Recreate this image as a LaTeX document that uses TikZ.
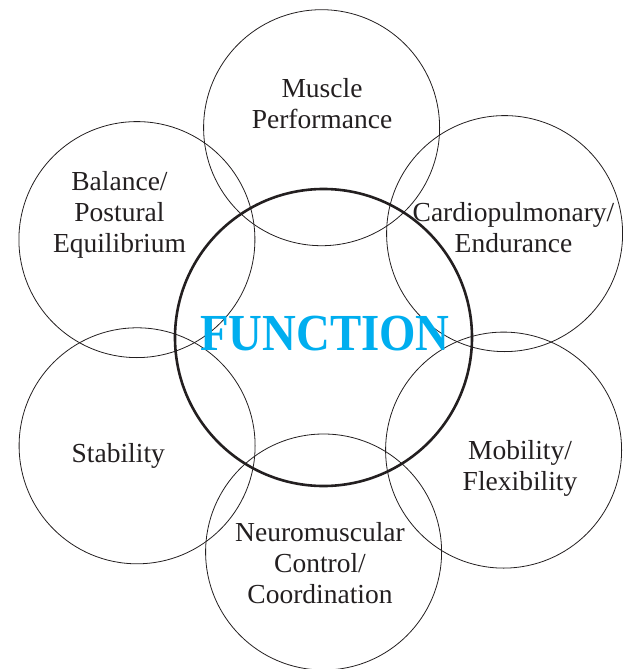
\documentclass[tikz,border=0pt]{standalone}
\usepackage{fontspec}
\setmainfont{Liberation Serif}
\usepackage{tikz}
\usetikzlibrary{positioning}
\usepackage{xcolor}
\definecolor{fninkgray}{RGB}{35,31,32}
\definecolor{fncyan}{RGB}{0,174,239}
\tikzstyle{areacircle} = [circle, draw=fninkgray, line width=0.8pt, minimum size=236pt, inner sep=0pt]
\tikzstyle{corecircle} = [circle, draw=fninkgray, line width=2.6pt, minimum size=297pt, inner sep=0pt]
\tikzstyle{arealabel} = [align=center, inner sep=0pt, text=fninkgray, font=\fontsize{27.5}{31}\selectfont]

\begin{document}
\begin{tikzpicture}[x=1pt, y=-1pt]
\useasboundingbox (0,0) rectangle (623,669);
% Circles
\node[corecircle] (core) at (323.5,337.5) {};
\node[areacircle] (muscle) at (321.6,127.7) {};
\node[areacircle] (balance) at (136.9,239.6) {};
\node[areacircle] (cardio) at (504.6,233.6) {};
\node[areacircle] (stability) at (137.1,445.8) {};
\node[areacircle] (mobility) at (503.6,450.1) {};
\node[areacircle] (neuro) at (323.6,552) {};

% Labels
\node[arealabel] (musclelbl) at (322,103.5) {Muscle\\Performance};
\node[arealabel] (balancelbl) at (119.5,215) {Balance/\\Postural\\Equilibrium};
\node[arealabel] (cardiolbl) at (513.5,227.5) {Cardiopulmonary/\\Endurance};
\node[arealabel] (stabilitylbl) at (118.3,455.5) {Stability};
\node[arealabel] (mobilitylbl) at (520,468) {Mobility/\\Flexibility};
\node[arealabel] (neurolbl) at (320,563) {Neuromuscular\\Control/\\Coordination};

% Centre
\node[text=fncyan, font=\fontsize{52}{52}\bfseries, xscale=0.9, transform shape, inner sep=0pt] (function) at (325,333.5) {FUNCTION};
\end{tikzpicture}
\end{document}
